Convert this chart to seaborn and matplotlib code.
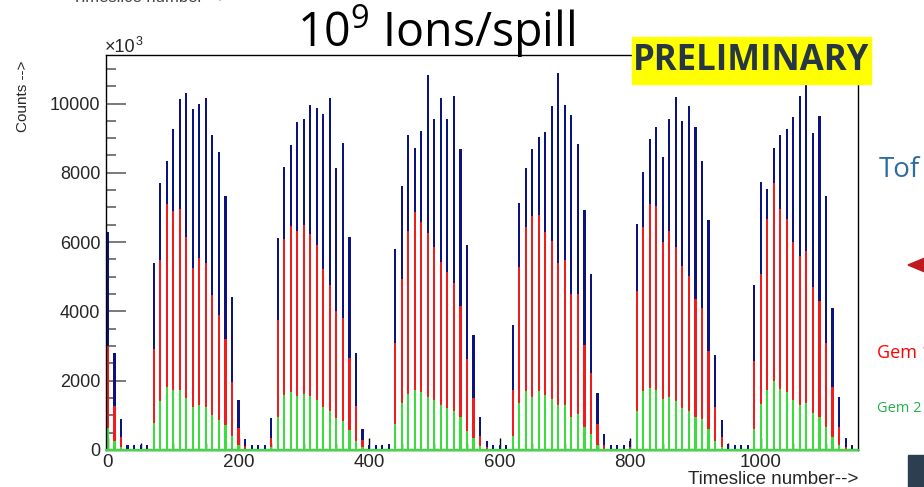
import numpy as np
import pandas as pd
import matplotlib
matplotlib.use("Agg")
import matplotlib.pyplot as plt
from matplotlib.patches import Rectangle, Polygon
from matplotlib.ticker import MultipleLocator
import seaborn as sns

# Timeslice bins (one bar every 10 timeslices)
timeslice = np.arange(0, 1160, 10)

# Counts per bin, in units of 10^3
tof = [6300, 2810, 900, 150, 150, 150, 150, 5390, 7710, 8350,
       9270, 10120, 10300, 9840, 9990, 10170, 9100, 8610, 7320, 4420,
       1440, 310, 150, 150, 150, 930, 6130, 8180, 8810, 9480,
       9550, 9960, 9870, 9710, 10160, 8150, 8860, 6140, 2810, 600,
       150, 150, 150, 170, 5800, 7630, 9090, 8720, 9220, 10830,
       9550, 10160, 9550, 10230, 8690, 5920, 3310, 940, 260, 150,
       150, 150, 3600, 7130, 8130, 8690, 9030, 9170, 9940, 10880,
       9960, 9680, 8830, 6930, 5080, 1640, 450, 150, 150, 150,
       250, 6530, 8010, 8990, 9310, 8470, 9550, 10190, 9490, 9940,
       9310, 8350, 6640, 2740, 870, 170, 150, 150, 150, 4770,
       7730, 7530, 8720, 9090, 9250, 9600, 10230, 10560, 9150, 9650,
       7320, 4090, 1540, 340, 150, 190]

gem1 = [2990, 1280, 385, 0, 0, 0, 0, 2920, 5470, 7110,
        6890, 6950, 6160, 5260, 5540, 5390, 4480, 3900, 3200, 1970,
        640, 116, 0, 0, 0, 360, 3760, 6080, 6460, 6310,
        6480, 6240, 5920, 5230, 4750, 4020, 3820, 2650, 1270, 290,
        0, 0, 0, 0, 3100, 4940, 6330, 6880, 6590, 6260,
        5870, 5420, 5140, 4830, 4160, 2630, 1490, 400, 96, 0,
        0, 0, 1730, 5270, 6450, 6740, 6780, 6300, 6030, 5410,
        5490, 4490, 4490, 3030, 2220, 740, 144, 0, 0, 0,
        100, 4600, 6450, 7110, 7030, 5990, 6310, 5860, 5320, 5030,
        4370, 4110, 2860, 1230, 370, 0, 0, 0, 0, 2570,
        5080, 6660, 7700, 6960, 6660, 6000, 5590, 5750, 4690, 4310,
        3100, 1810, 670, 96, 0, 0]

gem2 = [640, 250, 96, 0, 0, 0, 0, 780, 1400, 1810,
        1730, 1730, 1510, 1250, 1300, 1250, 1010, 870, 720, 404,
        150, 0, 0, 0, 0, 96, 940, 1590, 1660, 1560,
        1610, 1560, 1430, 1250, 1130, 920, 850, 580, 260, 77,
        0, 0, 0, 0, 740, 1350, 1610, 1730, 1660, 1520,
        1430, 1300, 1220, 1130, 960, 560, 340, 116, 0, 0,
        0, 0, 404, 1350, 1690, 1520, 1710, 1590, 1470, 1300,
        1300, 960, 1040, 655, 450, 144, 0, 0, 0, 0,
        0, 1140, 1690, 1780, 1730, 1470, 1520, 1400, 1220, 1140,
        960, 900, 600, 260, 96, 0, 0, 0, 0, 600,
        1320, 1730, 1990, 1750, 1660, 1430, 1300, 1350, 1080, 940,
        655, 385, 144, 0, 0, 0]

series_colors = {"Tof": "#0c1280", "Gem1": "#f01c1c", "Gem2": "#3ade3a"}

sns.set_style("white")
plt.rcParams["font.family"] = ["Liberation Sans", "DejaVu Sans"]
plt.rcParams["mathtext.fontset"] = "custom"
plt.rcParams["mathtext.rm"] = "Open Sans"

W, H = 924, 487
fig = plt.figure(figsize=(W / 100, H / 100), dpi=100)
ax = fig.add_axes([106 / W, 1 - 450 / H, (858 - 106) / W, (450 - 55) / H])

df = pd.DataFrame({"timeslice": timeslice, "Tof": tof, "Gem1": gem1, "Gem2": gem2})
for col in ["Tof", "Gem1", "Gem2"]:
    sns.barplot(data=df, x="timeslice", y=col, native_scale=True, width=0.32,
                color=series_colors[col], saturation=1, errorbar=None,
                linewidth=0, ax=ax)

ax.axhline(0, color=series_colors["Gem2"], lw=1.6, zorder=3, clip_on=False)

ax.set_xlim(-3, 1149)
ax.set_ylim(0, 11400)
ax.set_xlabel("")
ax.set_ylabel("")

ax.xaxis.set_major_locator(MultipleLocator(200))
ax.xaxis.set_minor_locator(MultipleLocator(50))
ax.yaxis.set_major_locator(MultipleLocator(2000))
ax.yaxis.set_minor_locator(MultipleLocator(500))

ax.tick_params(axis="y", which="major", direction="in", length=14.5, width=1.1,
               color="#555555", labelsize=13, pad=4, left=True)
ax.tick_params(axis="y", which="minor", direction="in", length=7.2, width=1.1,
               color="#555555", left=True)
ax.tick_params(axis="x", which="major", direction="in", length=9, width=1,
               color="black", labelsize=13.5, pad=3, bottom=True)
ax.tick_params(axis="x", which="minor", direction="in", length=4.7, width=1,
               color="black", bottom=True)

for side in ["left", "right", "top", "bottom"]:
    ax.spines[side].set_visible(True)
    ax.spines[side].set_color("black")
    ax.spines[side].set_linewidth(1)

# Axis titles and exponent
fig.text(23 / W, 1 - 96 / H, "Counts -->", rotation=90, ha="center", va="center",
         fontsize=11)
fig.text(858 / W, 1 - 480 / H, "Timeslice number-->", ha="right", va="center",
         fontsize=13.5)
fig.text(105 / W, 1 - 52 / H, "×10", ha="left", va="baseline", fontsize=13)
fig.text(136 / W, 1 - 45 / H, "3", ha="left", va="baseline", fontsize=9)
fig.text(150 / W, 1 + 3 / H, "Timeslice number -->", ha="center", va="center",
         fontsize=12, color="#444444")

# Title
fig.text(436 / W, 1 - 46 / H, r"10$^{\mathrm{9}}$ Ions/spill", ha="center",
         va="baseline", fontsize=33.5, family="Open Sans", color="black")

# PRELIMINARY stamp
fig.add_artist(Rectangle((632 / W, 1 - 84 / H), (871 - 632) / W, (84 - 37) / H,
                         transform=fig.transFigure, color="#ffff00", zorder=5))
fig.text(751.5 / W, 1 - 61 / H, "PRELIMINARY", ha="center", va="center",
         fontsize=25, fontweight="bold", family="Open Sans", color="#263645",
         zorder=6)

# Side annotations
fig.text(879 / W, 1 - 170 / H, "Tof", ha="left", va="center", fontsize=20,
         family="Open Sans", color="#2e6da4")
fig.add_artist(Polygon([(908 / W, 1 - 265 / H), (932 / W, 1 - 255 / H),
                        (932 / W, 1 - 275 / H)], closed=True,
                       transform=fig.transFigure, color="#c0181f"))
fig.text(877 / W, 1 - 353 / H, "Gem 1", ha="left", va="center", fontsize=13,
         family="Open Sans", color="#ff0000")
fig.text(877 / W, 1 - 409 / H, "Gem 2", ha="left", va="center", fontsize=10.5,
         family="Open Sans", color="#22b14c")
fig.add_artist(Rectangle((908 / W, 0), 16 / W, 32 / H, transform=fig.transFigure,
                         color="#2c3e50"))

fig.savefig("out.png", dpi=100)
